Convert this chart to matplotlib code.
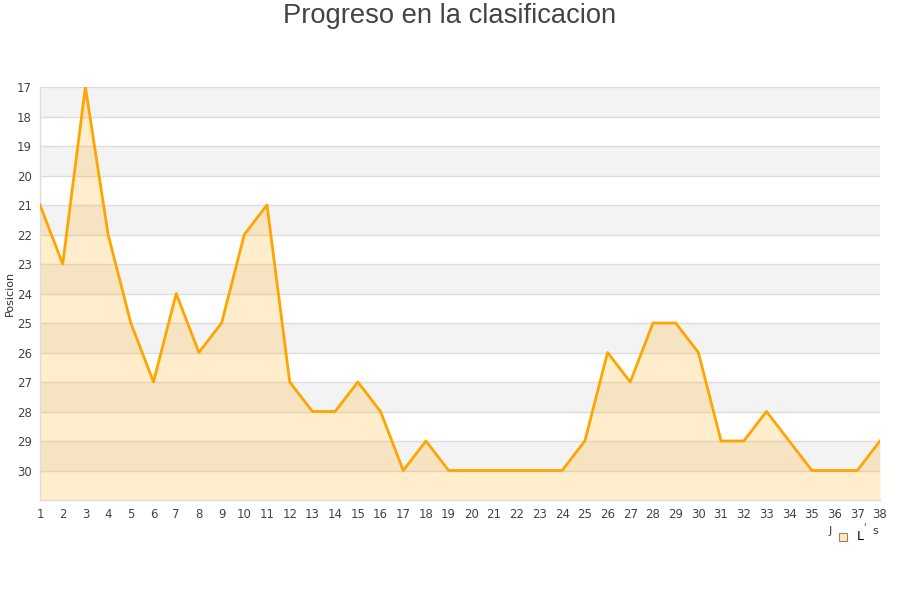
import matplotlib
matplotlib.use("Agg")
import matplotlib.pyplot as plt
from matplotlib.patches import Rectangle

jornadas = list(range(1, 39))
posiciones = [21, 23, 17, 22, 25, 27, 24, 26, 25, 22,
              21, 27, 28, 28, 27, 28, 30, 29, 30, 30,
              30, 30, 30, 30, 29, 26, 27, 25, 25, 26,
              29, 29, 28, 29, 30, 30, 30, 29]
y_ticks = list(range(17, 31))
y_bottom = 31
title = "Progreso en la clasificacion"
ylabel = "Posicion"

fig = plt.figure(figsize=(9, 6), dpi=100)
ax = fig.add_axes([40/900, 1-500/600, 840/900, (500-87)/600])

# alternating bands
for y0 in range(17, 31, 2):
    ax.axhspan(y0, y0 + 1, color="#f3f3f3", zorder=0, lw=0)
for y in y_ticks:
    ax.axhline(y, color="#dddddd", lw=1, zorder=1)

ax.fill_between(jornadas, posiciones, y_bottom, color="#ffa500", alpha=0.2, lw=0, zorder=2)
ax.plot(jornadas, posiciones, color="#ffa500", lw=2, zorder=3)

ax.set_xlim(1, 38)
ax.set_ylim(y_bottom, 17)
ax.set_xticks(jornadas)
ax.set_yticks(y_ticks)
ax.tick_params(axis="both", length=0, labelsize=8.5, colors="#444444", pad=6)
for s in ["top", "right"]:
    ax.spines[s].set_visible(False)
for s in ["left", "bottom"]:
    ax.spines[s].set_color("#dddddd")
    ax.spines[s].set_linewidth(1)
ax.set_ylabel(ylabel, fontsize=8, color="#333333", labelpad=2)
ax.yaxis.set_label_coords(-0.03, 0.5)

fig.text(0.5, 0.995, title, ha="center", va="top", fontsize=19.7,
         family="Liberation Sans", color="#444444")

# garbled legend
fig.text(830/900, 1-531/600, "J", fontsize=8, color="#333333", ha="center", va="center")
fig.patches.append(Rectangle((839/900, 1-541/600), 8/900, 8/600, transform=fig.transFigure,
                             facecolor="#ffe9c0", edgecolor="#a08060", lw=0.8))
fig.text(860/900, 1-536/600, "L", fontsize=9, color="#000000", ha="center", va="center")
fig.text(864/900, 1-527/600, "'", fontsize=7, color="#333333", ha="center", va="center")
fig.text(875/900, 1-531/600, "s", fontsize=8, color="#333333", ha="center", va="center")

fig.savefig("out.png", dpi=100)
